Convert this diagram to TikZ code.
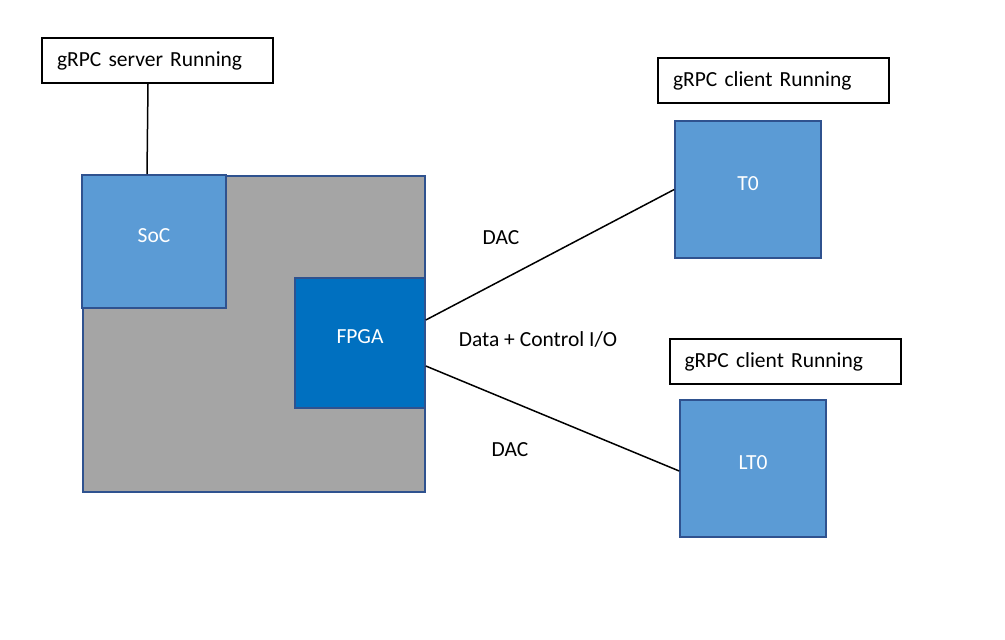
\documentclass[tikz,border=0pt]{standalone}
\usepackage{fontspec}
\setmainfont{Carlito}
\definecolor{boardgray}{HTML}{A5A5A5}
\definecolor{edgeblue}{HTML}{2F528F}
\definecolor{lightblue}{HTML}{5B9BD5}
\definecolor{darkblue}{HTML}{0070C0}
\tikzset{
  chip/.style={draw=edgeblue,line width=1.6pt,fill=lightblue,text=white,
    inner sep=0pt,text depth=12pt,font=\fontsize{21.5}{26}\selectfont},
  status/.style={draw=black,line width=2pt,fill=white,inner xsep=15pt,
    inner ysep=0pt,minimum height=45pt,text width=201pt,align=left,
    font=\fontsize{21.5}{26}\selectfont},
  linklabel/.style={font=\fontsize{21.5}{26}\selectfont},
  link/.style={line width=1.5pt}
}
\begin{document}
\begin{tikzpicture}[x=1pt,y=-1pt]
 \useasboundingbox (0,0) rectangle (1005,640);
 % board with SoC and FPGA
 \node[chip,fill=boardgray,minimum width=342pt,minimum height=316pt] (board) at (254,334) {};
 \node[chip,minimum width=144pt,minimum height=133pt] (soc) at (154,241.5) {SoC};
 \node[chip,fill=darkblue,minimum width=130pt,minimum height=130pt] (fpga) at (360,343) {FPGA};
 % remote units
 \node[chip,minimum width=146pt,minimum height=137pt] (tzero) at (748,189.5) {T0};
 \node[chip,minimum width=146pt,minimum height=137pt] (ltzero) at (753,468.5) {LT0};
 % status boxes
 \node[status] (server) at (157.5,60.5) {gRPC server Running};
 \node[status] (clientA) at (773.5,80.5) {gRPC client Running};
 \node[status] (clientB) at (785,361.5) {gRPC client Running};
 % links
 \draw[link] ([xshift=-9.5pt]server.south) -- ([xshift=-7pt]soc.north);
 \draw[link] ([yshift=23pt]fpga.east) -- (tzero.west);
 \draw[link] ([yshift=-23pt]fpga.east) -- ([yshift=-2.5pt]ltzero.west);
 \node[linklabel] (dactop) at (501,238) {DAC};
 \node[linklabel] (dataio) at (538,339) {Data + Control I/O};
 \node[linklabel] (dacbot) at (510,450) {DAC};
\end{tikzpicture}
\end{document}
